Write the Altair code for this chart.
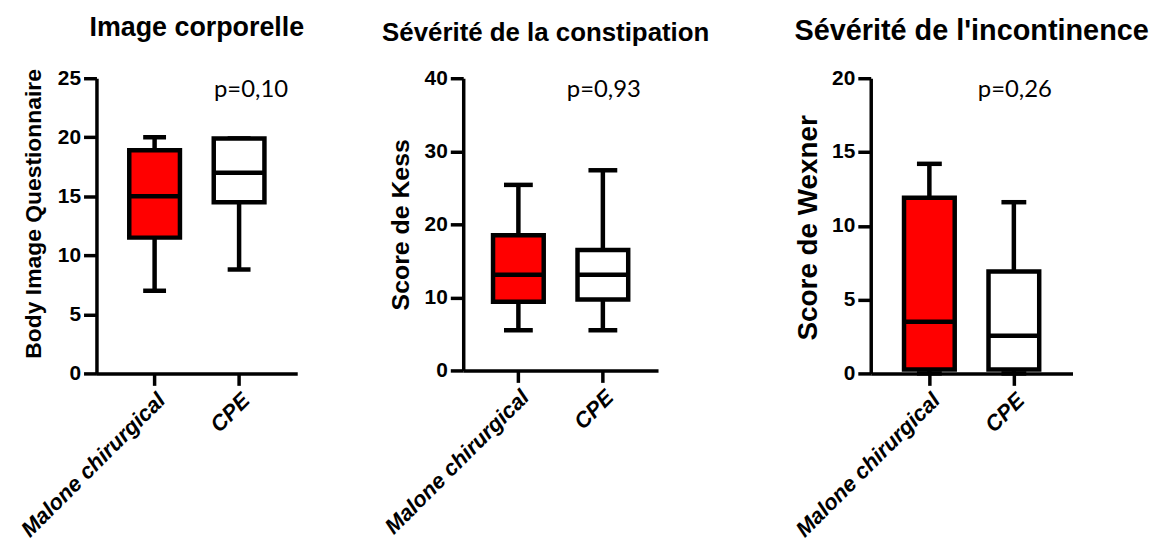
import altair as alt
import pandas as pd

groups = ["Malone chirurgical", "CPE"]
fill_colors = ["#FF0000", "#FFFFFF"]

# Body Image Questionnaire
body_low = [7.0, 8.8]
body_q1 = [11.5, 14.5]
body_median = [15.0, 17.0]
body_q3 = [18.9, 19.9]
body_high = [20.0, 19.9]

# Score de Kess
kess_low = [5.5, 5.5]
kess_q1 = [9.4, 9.7]
kess_median = [13.1, 13.1]
kess_q3 = [18.5, 16.5]
kess_high = [25.4, 27.4]

# Score de Wexner
wexner_low = [0.0, 0.0]
wexner_q1 = [0.27, 0.27]
wexner_median = [3.5, 2.55]
wexner_q3 = [11.9, 6.9]
wexner_high = [14.2, 11.6]

titles = ["Image corporelle", "Sévérité de la constipation", "Sévérité de l'incontinence"]
y_titles = ["Body Image Questionnaire", "Score de  Kess", "Score de Wexner"]
y_max = [25, 40, 20]
y_ticks = [[0, 5, 10, 15, 20, 25], [0, 10, 20, 30, 40], [0, 5, 10, 15, 20]]
p_values = ["p=0,10", "p=0,93", "p=0,26"]

FONT = "Liberation Sans"
SW = 4.5


def panel(low, q1, med, q3, high, title, ytitle, ymax, ticks, ptext,
          width, height, title_size, title_offset, title_dx, ytitle_size,
          ytitle_y, p_dx, cap):
    df = pd.DataFrame({"group": groups, "low": low, "q1": q1, "median": med,
                       "q3": q3, "high": high, "fill": fill_colors})
    step = 85.0
    pi = 0.4
    po = (width / step - (2 - pi)) / 2
    xscale = alt.Scale(domain=groups, paddingInner=pi, paddingOuter=po)
    xaxis = alt.Axis(title=None, labelAngle=-45, labelFont=FONT, labelFontSize=22,
                     labelFontWeight="bold", labelFontStyle="italic", labelColor="black",
                     labelLimit=0, grid=False,
                     domainColor="black", domainWidth=3.5, tickColor="black",
                     tickWidth=3.5, tickSize=12, labelPadding=4)
    yscale = alt.Scale(domain=[0, ymax], nice=False, zero=True)
    yaxis = alt.Axis(values=ticks, title=ytitle, titleFont=FONT, titleFontSize=ytitle_size,
                     titleFontWeight="bold", titleColor="black", titleX=-63,
                     titleY=ytitle_y, titleBaseline="middle", titleAlign="center",
                     labelFont=FONT, labelFontSize=21, labelFontWeight="bold",
                     labelColor="black", domainColor="black", domainWidth=3.5,
                     tickColor="black", tickWidth=3.5, tickSize=13, labelPadding=3,
                     grid=False)

    def X():
        return alt.X("group:N", scale=xscale, sort=groups, axis=xaxis)

    def Y(field):
        return alt.Y(field, scale=yscale, axis=yaxis)

    base = alt.Chart(df)
    whisker = base.mark_rule(color="black", strokeWidth=SW, opacity=1).encode(
        x=X(), y=Y("low:Q"), y2="high:Q")
    cap_low = base.mark_tick(color="black", size=cap, thickness=SW, opacity=1).encode(
        x=X(), y=Y("low:Q"))
    cap_high = base.mark_tick(color="black", size=cap, thickness=SW, opacity=1).encode(
        x=X(), y=Y("high:Q"))
    box = base.mark_bar(stroke="black", strokeWidth=SW, opacity=1).encode(
        x=X(), y=Y("q1:Q"), y2="q3:Q", fill=alt.Fill("fill:N", scale=None))
    median = base.mark_tick(color="black", size=51, thickness=SW, opacity=1).encode(
        x=X(), y=Y("median:Q"))
    pdf = pd.DataFrame({"group": ["CPE"], "y": [ymax], "text": [ptext]})
    ptxt = alt.Chart(pdf).mark_text(font="Lato", fontSize=24, baseline="top",
                                    align="center", dx=p_dx, color="black").encode(
        x=X(), y=Y("y:Q"), text="text:N")
    return alt.layer(whisker, cap_low, cap_high, box, median, ptxt).properties(
        width=width, height=height,
        title=alt.TitleParams(title, font=FONT, fontSize=title_size, fontWeight="bold",
                              color="black", offset=title_offset, dx=title_dx,
                              anchor="middle"))


def spacer(w, h):
    return alt.Chart(pd.DataFrame({"v": [0]})).mark_point(opacity=0).encode(
        x=alt.value(0), y=alt.value(0)).properties(width=w, height=h)


p1 = panel(body_low, body_q1, body_median, body_q3, body_high, titles[0], y_titles[0],
           y_max[0], y_ticks[0], p_values[0], 202, 297, 27, 25, 0, 23, 136, 12, 23)
p2 = panel(kess_low, kess_q1, kess_median, kess_q3, kess_high, titles[1], y_titles[1],
           y_max[1], y_ticks[1], p_values[1], 196, 294, 26, 21, -15, 25, 147, 1, 29)
p3 = panel(wexner_low, wexner_q1, wexner_median, wexner_q3, wexner_high, titles[2],
           y_titles[2], y_max[2], y_ticks[2], p_values[2], 203, 297, 29, 21, 0, 28, 150, 1, 25)

chart = alt.hconcat(p1, spacer(167, 297), p2, spacer(214, 297), p3,
                    spacing=0, bounds="flush").properties(
    padding={"left": 8, "top": 5, "right": 5, "bottom": 5}
).configure(font=FONT, background="white").configure_view(stroke="transparent", strokeWidth=0)

chart.save("out.html", embed_options={"renderer": "svg", "actions": False})
